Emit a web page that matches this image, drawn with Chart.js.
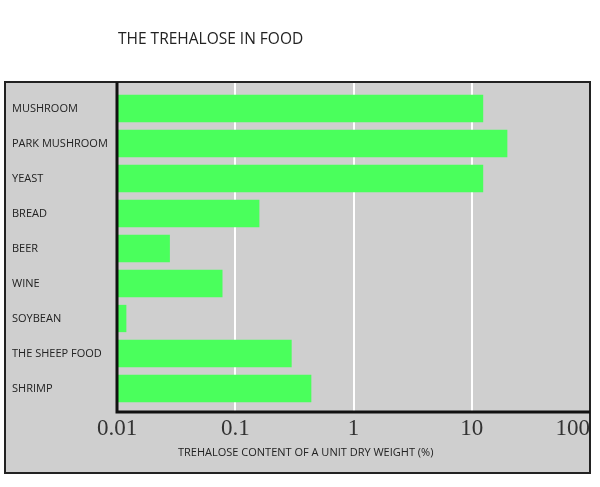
<!DOCTYPE html>
<html>
<head>
<meta charset="utf-8">
<script src="https://cdn.jsdelivr.net/npm/chart.js@4"></script>
<style>
  body { margin: 0; background: #fff; }
  #wrap { width: 600px; height: 487px; }
</style>
</head>
<body>
<div id="wrap"><canvas id="myChart" width="600" height="487"></canvas></div>
<script>
const foods = ["MUSHROOM", "PARK MUSHROOM", "YEAST", "BREAD", "BEER", "WINE", "SOYBEAN", "THE SHEEP FOOD", "SHRIMP"];
const trehalose = [12.5, 20, 12.5, 0.16, 0.028, 0.078, 0.012, 0.30, 0.44];
const decadeTicks = [0.01, 0.1, 1, 10, 100];

const chartTitle = "THE TREHALOSE IN FOOD";
const xTitle = "TREHALOSE CONTENT OF A UNIT DRY WEIGHT (%)";

const isDecade = (v) => decadeTicks.some((d) => Math.abs(v - d) < d * 1e-6);

// Background box, white gridlines, titles and the black axis lines
const framePlugin = {
  id: "frame",
  beforeDraw(chart) {
    const ctx = chart.ctx;
    const x = chart.scales.x;
    const top = 82, bottom = 412;
    ctx.save();
    ctx.fillStyle = "#cfcfcf";
    ctx.fillRect(5, 82, 585, 391);

    ctx.strokeStyle = "#ffffff";
    ctx.lineWidth = 2;
    decadeTicks.forEach((v) => {
      const px = Math.round(x.getPixelForValue(v));
      ctx.beginPath();
      ctx.moveTo(px, top);
      ctx.lineTo(px, bottom);
      ctx.stroke();
    });

    ctx.fillStyle = "#222";
    ctx.textBaseline = "alphabetic";
    ctx.textAlign = "left";
    ctx.font = "15.5px 'Open Sans'";
    ctx.fillText(chartTitle, 118, 44);
    ctx.font = "11px 'Open Sans'";
    ctx.textBaseline = "middle";
    ctx.fillText(xTitle, 178, 453);
    ctx.restore();
  },
  afterDatasetsDraw(chart) {
    const ctx = chart.ctx;
    const area = chart.chartArea;
    ctx.save();
    ctx.strokeStyle = "#222";
    ctx.lineWidth = 2;
    ctx.strokeRect(5, 82, 585, 391);
    ctx.strokeStyle = "#111";
    ctx.lineWidth = 3;
    ctx.beginPath();
    ctx.moveTo(area.left, 82);
    ctx.lineTo(area.left, 412);
    ctx.lineTo(area.right, 412);
    ctx.stroke();
    ctx.restore();
  }
};

new Chart("myChart", {
  type: "bar",
  data: {
    labels: foods,
    datasets: [
      {
        data: trehalose,
        backgroundColor: "#4aff5c",
        borderWidth: 0,
        barPercentage: 0.78,
        categoryPercentage: 1.0,
      },
    ],
  },
  options: {
    indexAxis: "y",
    responsive: false,
    animation: false,
    layout: {
      padding: { left: 12, right: 10, top: 91, bottom: 36 },
    },
    scales: {
      x: {
        type: "logarithmic",
        min: 0.01,
        max: 100,
        grid: { display: false },
        border: { display: false },
        afterFit: (scale) => {
          scale.height = 45;
          scale.paddingLeft = 0;
          scale.paddingRight = 0;
        },
        ticks: {
          autoSkip: false,
          maxRotation: 0,
          padding: 1,
          color: "#333",
          font: { family: "'Liberation Serif', serif", size: 23 },
          // the last label sits inside the frame, as in the original
          callback: (v) => {
            if (!isDecade(v)) return "";
            return v >= 100 ? String(v) + "\u00a0".repeat(6) : String(v);
          },
        },
      },
      y: {
        grid: { display: false },
        border: { display: false },
        afterFit: (scale) => { scale.width = 105; },
        ticks: {
          crossAlign: "far",
          color: "#222",
          font: { family: "'Open Sans'", size: 11 },
        },
      },
    },
    plugins: {
      legend: { display: false },
      tooltip: { enabled: false },
    },
  },
  plugins: [framePlugin],
});
</script>
</body>
</html>
